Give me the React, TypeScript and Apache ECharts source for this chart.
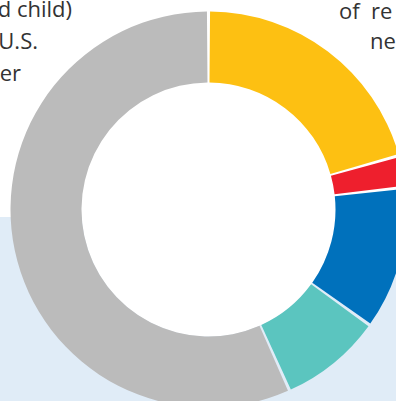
import React, { useEffect, useRef } from "react";
import * as echarts from "echarts";

const categories = ["Yellow share", "Red share", "Blue share", "Teal share", "Gray share"];
const values = [20.6, 2.6, 11.7, 8.4, 56.7];
const colors = ["#FDC012", "#EE1F2D", "#0071BC", "#5BC5BF", "#BBBBBB"];
const leftText = ["d child)", "U.S.", "er"];
const rightText = ["of", "re", "ne"];

export default function App() {
  const ref = useRef<HTMLDivElement>(null);
  useEffect(() => {
    if (!ref.current) return;
    const chart = echarts.init(ref.current, null, { renderer: "svg" });
    const font = "'Open Sans', 'Noto Sans', sans-serif";
    const leftX = [72, 38, 21];
    const leftY = [8.4, 40.4, 72.4];
    const rightX = [339, 371, 370];
    const rightY = [10, 10, 40];
    chart.setOption({
      animation: false,
      backgroundColor: "#ffffff",
      graphic: [
        {
          type: "rect",
          z: -10,
          shape: { x: 0, y: 217, width: 396, height: 184 },
          style: { fill: "#E0ECF7" },
        },
        ...leftText.map((t, i) => ({
          type: "text",
          x: leftX[i],
          y: leftY[i],
          style: {
            text: t,
            fill: "#333333",
            font: `400 22px ${font}`,
            textAlign: "right",
            textVerticalAlign: "middle",
          },
        })),
        ...rightText.map((t, i) => ({
          type: "text",
          x: rightX[i],
          y: rightY[i],
          style: {
            text: t,
            fill: "#333333",
            font: `400 22px ${font}`,
            textAlign: "left",
            textVerticalAlign: "middle",
          },
        })),
      ],
      series: [
        {
          type: "pie",
          center: [208.5, 209.5],
          radius: [0, 127],
          silent: true,
          z: 1,
          label: { show: false },
          labelLine: { show: false },
          emphasis: { disabled: true },
          tooltip: { show: false },
          data: [{ name: "hole", value: 1, itemStyle: { color: "#ffffff" } }],
        },
        {
          type: "pie",
          center: [208.5, 209.5],
          radius: [127, 198],
          startAngle: 90,
          clockwise: true,
          padAngle: 0.9,
          z: 2,
          label: { show: false },
          labelLine: { show: false },
          emphasis: { disabled: true },
          data: categories.map((c, i) => ({
            name: c,
            value: values[i],
            itemStyle: { color: colors[i] },
          })),
        },
      ],
    });
    return () => chart.dispose();
  }, []);
  return (
    <div
      ref={ref}
      style={{ position: "fixed", left: 0, top: 0, width: 396, height: 401 }}
    />
  );
}
